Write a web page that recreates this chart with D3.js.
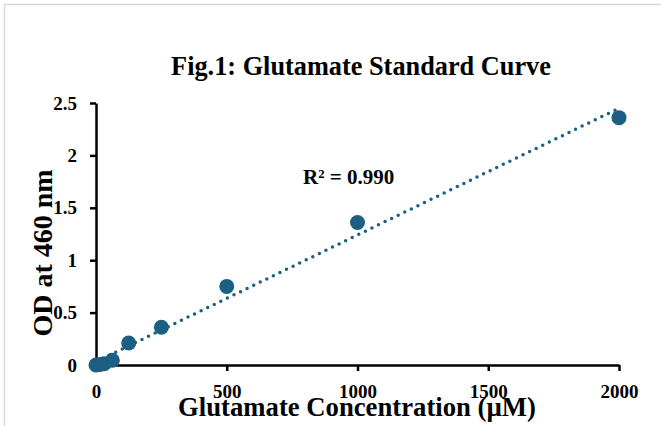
<!DOCTYPE html>
<html>
<head>
<meta charset="utf-8">
<script src="https://cdn.jsdelivr.net/npm/d3@7"></script>
<style>
  html, body { margin: 0; padding: 0; background: #fff; }
  svg { display: block; }
  text { font-family: "Liberation Serif", "Times New Roman", serif; font-weight: bold; fill: #000; }
</style>
</head>
<body>
<svg id="chart" width="661" height="426"></svg>
<script>
// ---- data ----
const concentrations = [0, 15.6, 31.25, 62.5, 125, 250, 500, 1000, 2000];
const odValues       = [0, 0.005, 0.012, 0.045, 0.21, 0.36, 0.75, 1.36, 2.36];
const xTicks = [0, 500, 1000, 1500, 2000];
const yTicks = [0, 0.5, 1, 1.5, 2, 2.5];
const titleText = "Fig.1: Glutamate Standard Curve";
const xTitle = "Glutamate Concentration (µM)";
const yTitle = "OD at 460 nm";
const r2Label = "R² = 0.990";

// ---- layout ----
const svg = d3.select("#chart");
const color = "#1c5f83";
const plotLeft = 96, plotRight = 619, plotTop = 103, plotBottom = 365;

const x = d3.scaleLinear().domain([0, 2000]).range([plotLeft, plotRight]);
const y = d3.scaleLinear().domain([0, 2.5]).range([plotBottom, plotTop]);

// outer border
svg.append("rect")
  .attr("x", 4.5).attr("y", 4.5).attr("width", 700).attr("height", 500)
  .attr("fill", "none").attr("stroke", "#d9d9d9").attr("stroke-width", 1.5);

// title
svg.append("text")
  .attr("x", 361).attr("y", 75).attr("text-anchor", "middle")
  .style("font-size", "26.3px").text(titleText);

// axes
const xAxis = d3.axisBottom(x).tickValues(xTicks).tickSize(6).tickSizeOuter(0).tickPadding(14)
  .tickFormat(d3.format("d"));
const yAxis = d3.axisLeft(y).tickValues(yTicks).tickSize(6).tickSizeOuter(0).tickPadding(13)
  .tickFormat(d => String(d));

const gx = svg.append("g").attr("transform", `translate(0,${plotBottom})`).call(xAxis);
const gy = svg.append("g").attr("transform", `translate(${plotLeft},0)`).call(yAxis);
[gx, gy].forEach(g => {
  g.selectAll("path.domain").attr("stroke", "#000").attr("stroke-width", 2.5);
  g.selectAll(".tick line").attr("stroke", "#000").attr("stroke-width", 2.5);
  g.selectAll(".tick text").style("font-size", "19px")
    .style("font-family", "'Liberation Serif', 'Times New Roman', serif")
    .style("font-weight", "bold").attr("fill", "#000");
});

// linear trendline (least squares on the data)
const n = concentrations.length;
const mx = d3.mean(concentrations), my = d3.mean(odValues);
let sxy = 0, sxx = 0;
for (let i = 0; i < n; i++) {
  sxy += (concentrations[i] - mx) * (odValues[i] - my);
  sxx += (concentrations[i] - mx) ** 2;
}
const slope = sxy / sxx, intercept = my - slope * mx;
const x0 = d3.min(concentrations), x1 = d3.max(concentrations);

// markers
svg.append("g").selectAll("circle")
  .data(concentrations.map((c, i) => [c, odValues[i]]))
  .join("circle")
  .attr("cx", d => x(d[0])).attr("cy", d => y(d[1]))
  .attr("r", 7.5).attr("fill", color);

svg.append("line")
  .attr("x1", x(x0)).attr("y1", y(intercept + slope * x0))
  .attr("x2", x(x1)).attr("y2", y(intercept + slope * x1))
  .attr("stroke", color).attr("stroke-width", 3.5)
  .attr("stroke-linecap", "round").attr("stroke-dasharray", "0,7.3");

// R² label
svg.append("text")
  .attr("x", 303).attr("y", 184)
  .style("font-size", "21px").text(r2Label);

// axis titles
svg.append("text")
  .attr("x", 357).attr("y", 416).attr("text-anchor", "middle")
  .style("font-size", "26.7px").text(xTitle);

svg.append("text")
  .attr("transform", `translate(52,253) rotate(-90)`)
  .attr("text-anchor", "middle")
  .style("font-size", "28px").text(yTitle);
</script>
</body>
</html>
